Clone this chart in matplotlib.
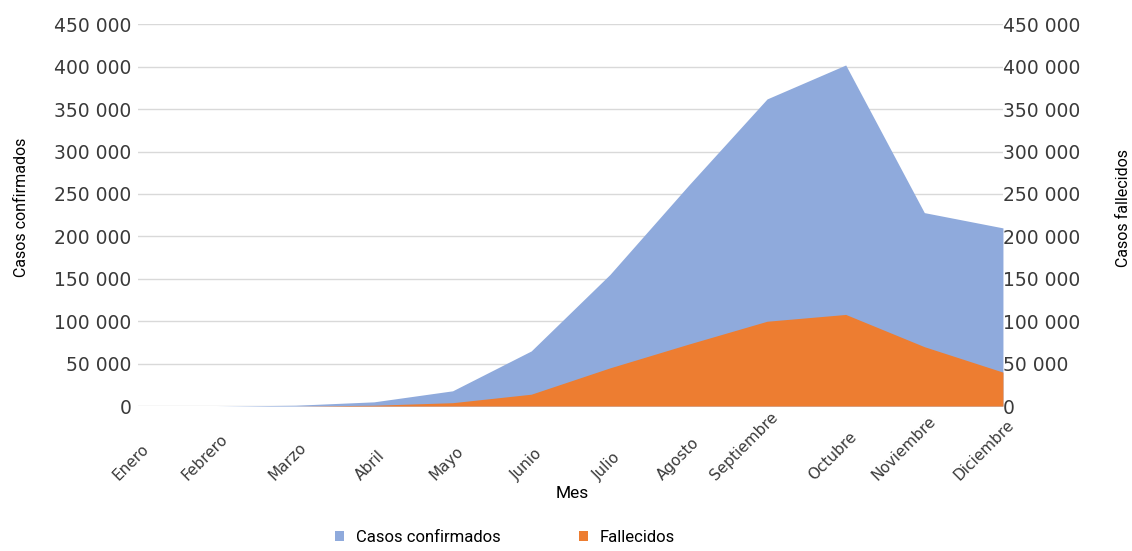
import matplotlib.pyplot as plt
from matplotlib.ticker import FuncFormatter
from matplotlib.transforms import ScaledTranslation

meses = ["Enero", "Febrero", "Marzo", "Abril", "Mayo", "Junio", "Julio",
         "Agosto", "Septiembre", "Octubre", "Noviembre", "Diciembre"]
casos_confirmados = [0, 0, 1000, 5000, 18000, 65000, 155000, 260000,
                     362000, 402000, 228000, 210000]
fallecidos = [0, 0, 0, 1000, 4000, 14000, 45000, 73000,
              100000, 108000, 70000, 40000]
y_ticks = list(range(0, 450001, 50000))

azul = "#8faadc"
naranja = "#ed7d31"
gris_texto = "#3a3a3a"
narrow = ["Roboto", "DejaVu Sans"]

plt.rcParams["font.family"] = ["DejaVu Sans"]


def miles(v, pos):
    return f"{int(v):,}".replace(",", " ")


fig = plt.figure(figsize=(11.32, 5.51), dpi=100)
ax = fig.add_axes([0.122, 0.263, 0.764, 0.693])
ax2 = ax.twinx()

x = list(range(len(meses)))
ax.fill_between(x, casos_confirmados, color=azul, linewidth=0, label="Casos confirmados")
ax2.fill_between(x, fallecidos, color=naranja, linewidth=0, label="Fallecidos")

for a in (ax, ax2):
    a.set_ylim(0, 450000)
    a.set_yticks(y_ticks)
    a.yaxis.set_major_formatter(FuncFormatter(miles))
    a.set_xlim(0, len(meses) - 1)
    for s in a.spines.values():
        s.set_visible(False)
    a.tick_params(axis="y", length=0, labelsize=13.5, colors=gris_texto)
ax.tick_params(axis="y", pad=5)
ax2.tick_params(axis="y", pad=0)

ax.grid(axis="y", color="#d9d9d9", linewidth=1)
ax.set_axisbelow(True)

# month labels, rotated 45 degrees, right end a bit past the category
ax.set_xticks(x)
ax.set_xticklabels([])
ax.tick_params(axis="x", length=0)
trans = ax.get_xaxis_transform() + ScaledTranslation(0.14, -0.77, fig.dpi_scale_trans)
for i, m in enumerate(meses):
    ax.text(i, 0, m, transform=trans, rotation=45, ha="right", va="bottom",
            fontsize=11, color=gris_texto)

ax.set_xlabel("Mes", fontsize=12.5, family=narrow)
ax.xaxis.set_label_coords(0.502, -0.21)
ax.set_ylabel("Casos confirmados", fontsize=11.5, family=narrow)
ax.yaxis.set_label_coords(-0.126, 0.52)
ax2.set_ylabel("Casos fallecidos", fontsize=11.5, family=narrow)
ax2.yaxis.set_label_coords(1.131, 0.52)

h1, l1 = ax.get_legend_handles_labels()
h2, l2 = ax2.get_legend_handles_labels()
fig.legend(h1 + h2, l1 + l2, loc="center", bbox_to_anchor=(505 / 1132, 1 - 537 / 551),
           ncol=2, frameon=False, prop={"family": narrow, "size": 12},
           handlelength=0.55, handleheight=0.55, columnspacing=4.7, handletextpad=0.72)

fig.savefig("out.png", dpi=100)
